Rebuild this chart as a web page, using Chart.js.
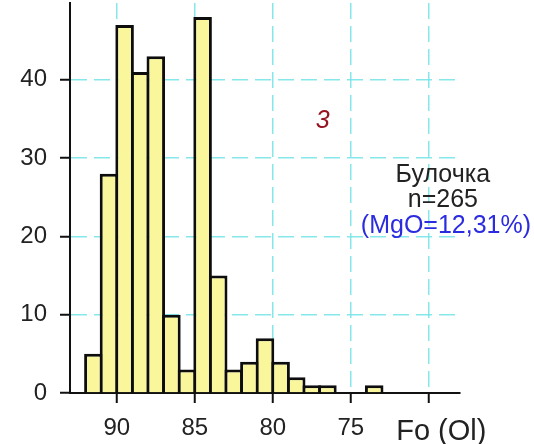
<!DOCTYPE html>
<html>
<head>
<meta charset="utf-8">
<script src="https://cdn.jsdelivr.net/npm/chart.js@4"></script>
<style>
  html, body { margin: 0; padding: 0; background: #fff; }
  #wrap { width: 534px; height: 444px; }
</style>
</head>
<body>
<div id="wrap"><canvas id="foChart" width="534" height="444"></canvas></div>
<script>
// Fo (Ol) histogram, 1-unit bins (bin centres, counts)
const binCentres = [91.5, 90.5, 89.5, 88.5, 87.5, 86.5, 85.5, 84.5, 83.5, 82.5, 81.5, 80.5, 79.5, 78.5, 77.5, 76.5, 75.5, 74.5, 73.5];
const counts     = [5,    28,   47,   41,   43,   10,   3,    48,   15,   3,    4,    7,    4,    2,    1,    1,    null, null, 1];

const xTicks = [90, 85, 80, 75, 70];
const yTicks = [0, 10, 20, 30, 40];

const sampleName = 'Булочка';
const sampleN = 'n=265';
const sampleMgO = '(MgO=12,31%)';
const panelNo = '3';
const axisTitle = 'Fo (Ol)';

const fontFamily = 'Arial, "Liberation Sans", sans-serif';
const gridColor = 'rgba(120, 228, 232, 0.9)';

// Annotations drawn in data coordinates
const labelsPlugin = {
    id: 'panelLabels',
    afterDraw(chart) {
        const { ctx, scales: { x, y } } = chart;
        ctx.save();
        ctx.textBaseline = 'alphabetic';
        ctx.textAlign = 'center';

        ctx.fillStyle = '#951522';
        ctx.font = 'italic 25px ' + fontFamily;
        ctx.fillText(panelNo, x.getPixelForValue(76.8), y.getPixelForValue(33.9));

        const cx = x.getPixelForValue(69.1);
        ctx.fillStyle = '#222';
        ctx.font = '25px ' + fontFamily;
        ctx.fillText(sampleName, cx, y.getPixelForValue(27));
        ctx.fillText(sampleN, cx, y.getPixelForValue(23.7));
        ctx.fillStyle = '#2b2be0';
        ctx.fillText(sampleMgO, x.getPixelForValue(68.9), y.getPixelForValue(20.4));

        ctx.fillStyle = '#222';
        ctx.font = '29px ' + fontFamily;
        ctx.fillText(axisTitle, x.getPixelForValue(69.2), chart.height - 4);
        ctx.restore();
    }
};

// fixed axis boxes, no extra label padding
const fixBox = (size) => (scale) => {
    if (scale.isHorizontal()) scale.height = size; else scale.width = size;
    scale.paddingTop = 0;
    scale.paddingBottom = 0;
    scale.paddingLeft = 0;
    scale.paddingRight = 0;
};

const ctx = document.getElementById('foChart').getContext('2d');
const chart = new Chart(ctx, {
    type: 'bar',
    data: {
        datasets: [{
            data: binCentres.map((fo, i) => ({ x: fo, y: counts[i] })),
            backgroundColor: '#faf69b',
            borderColor: '#0d0d0d',
            borderWidth: 3,
            barPercentage: 1.19,
            categoryPercentage: 1
        }]
    },
    options: {
        responsive: false,
        animation: false,
        layout: { padding: { top: 3, right: 74, left: 0, bottom: 0 } },
        plugins: { legend: { display: false }, tooltip: { enabled: false } },
        scales: {
            x: {
                type: 'linear',
                reverse: true,
                offset: false,
                min: 68,
                max: 93,
                afterFit: fixBox(51),
                afterBuildTicks: (scale) => { scale.ticks = xTicks.map(v => ({ value: v })); },
                ticks: {
                    color: '#222',
                    font: { family: fontFamily, size: 24 },
                    padding: 11,
                    maxRotation: 0,
                    callback: (v) => (v === 70 ? '' : v)
                },
                grid: {
                    offset: false,
                    color: gridColor,
                    lineWidth: 1.5,
                    tickColor: '#111',
                    tickWidth: 2,
                    tickLength: 10,
                    tickBorderDash: []
                },
                border: { display: true, color: '#111', width: 2, dash: [16, 7] }
            },
            y: {
                min: 0,
                max: 49.8,
                afterFit: fixBox(70),
                afterBuildTicks: (scale) => { scale.ticks = yTicks.map(v => ({ value: v })); },
                ticks: {
                    color: '#222',
                    font: { family: fontFamily, size: 24 },
                    padding: 13
                },
                grid: {
                    color: (c) => (c.tick && c.tick.value === 0 ? 'rgba(0,0,0,0)' : gridColor),
                    lineWidth: 1.5,
                    tickColor: '#111',
                    tickWidth: 2,
                    tickLength: 10,
                    tickBorderDash: []
                },
                border: { display: true, color: '#111', width: 2, dash: [16, 7] }
            }
        }
    },
    plugins: [labelsPlugin]
});
</script>
</body>
</html>
